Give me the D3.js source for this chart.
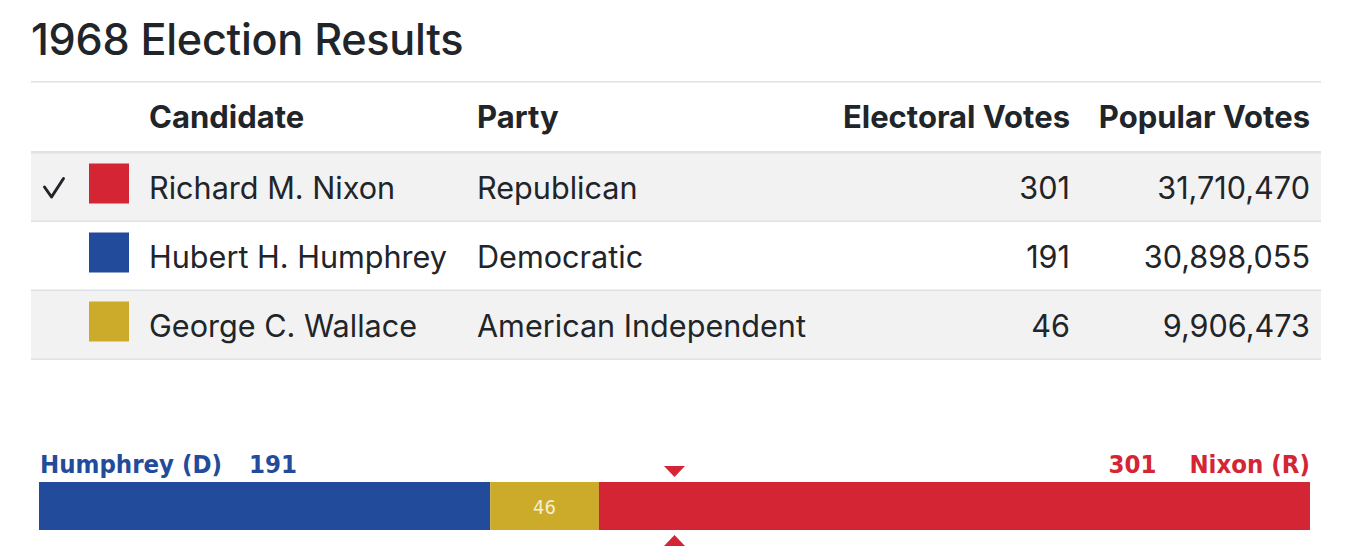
<!DOCTYPE html>
<html>
<head>
<meta charset="utf-8">
<script src="https://cdn.jsdelivr.net/npm/d3@7"></script>
<style>
  body { margin: 0; background: #fff; }
  svg { display: block; }
  text { font-family: Inter, "Noto Sans", sans-serif; fill: #212529; }
  .bar-label { font-family: "DejaVu Sans Condensed", "Liberation Sans Narrow", sans-serif; font-weight: 700; }
</style>
</head>
<body>
<div id="chart"></div>
<script>
// data
const TITLE = "1968 Election Results";
const HEADERS = ["Candidate", "Party", "Electoral Votes", "Popular Votes"];
const CANDIDATES = ["Richard M. Nixon", "Hubert H. Humphrey", "George C. Wallace"];
const SHORT_NAMES = ["Nixon (R)", "Humphrey (D)", "Wallace (AI)"];
const PARTIES = ["Republican", "Democratic", "American Independent"];
const ELECTORAL_VOTES = [301, 191, 46];
const POPULAR_VOTES = [31710470, 30898055, 9906473];
const WINNER = "Richard M. Nixon";
// order of segments in the bar (left to right)
const BAR_ORDER = ["Hubert H. Humphrey", "George C. Wallace", "Richard M. Nixon"];

const WIDTH = 1364;
const HEIGHT = 552;

const colorScale = d3.scaleOrdinal()
  .domain(CANDIDATES)
  .range(["#d42535", "#234b9b", "#cbab29"]);

const rows = CANDIDATES.map((c, i) => ({
  name: c,
  short: SHORT_NAMES[i],
  party: PARTIES[i],
  ev: ELECTORAL_VOTES[i],
  pv: POPULAR_VOTES[i],
}));

const svg = d3.select("#chart")
  .append("svg")
  .attr("width", WIDTH)
  .attr("height", HEIGHT);

// title
svg.append("text")
  .attr("x", 31)
  .attr("y", 55)
  .attr("font-size", 43.2)
  .attr("font-weight", 500)
  .attr("letter-spacing", -0.3)
  .text(TITLE);

// ---- table ----
const tableLeft = 31, tableRight = 1321;
const headerTop = 81, headerBottom = 151;
const yScale = d3.scaleBand()
  .domain(CANDIDATES)
  .range([153, 360])
  .paddingInner(0);

const table = svg.append("g").attr("class", "table");

// row backgrounds (striped)
table.selectAll(".row-bg")
  .data(rows)
  .join("rect")
  .attr("class", "row-bg")
  .attr("x", tableLeft)
  .attr("width", tableRight - tableLeft)
  .attr("y", d => yScale(d.name))
  .attr("height", yScale.bandwidth())
  .attr("fill", (d, i) => i % 2 === 0 ? "#f2f2f2" : "#fff");

// borders
table.append("rect")
  .attr("x", tableLeft).attr("width", tableRight - tableLeft)
  .attr("y", headerTop).attr("height", 1.5)
  .attr("fill", "#dee2e6");
table.append("rect")
  .attr("x", tableLeft).attr("width", tableRight - tableLeft)
  .attr("y", headerBottom).attr("height", 2.5)
  .attr("fill", "#dee2e6");
table.selectAll(".row-border")
  .data(rows)
  .join("rect")
  .attr("class", "row-border")
  .attr("x", tableLeft)
  .attr("width", tableRight - tableLeft)
  .attr("y", d => yScale(d.name) + yScale.bandwidth() - 1.5)
  .attr("height", 1.5)
  .attr("fill", "#dee2e6");

// column anchors
const cols = [
  { x: 149, anchor: "start" },
  { x: 477, anchor: "start" },
  { x: 1070, anchor: "end" },
  { x: 1310, anchor: "end" },
];

table.selectAll(".header")
  .data(HEADERS)
  .join("text")
  .attr("class", "header")
  .attr("x", (d, i) => cols[i].x)
  .attr("y", 128)
  .attr("text-anchor", (d, i) => cols[i].anchor)
  .attr("font-size", 31)
  .attr("font-weight", 700)
  .text(d => d);

const fmt = d3.format(",");
const row = table.selectAll(".row")
  .data(rows)
  .join("g")
  .attr("class", "row")
  .attr("transform", d => `translate(0, ${yScale(d.name) + yScale.bandwidth() / 2})`);

// check mark for the winner
row.filter(d => d.name === WINNER)
  .append("path")
  .attr("d", "M44.5,-0.5 L51.5,9.5 L63.5,-9")
  .attr("fill", "none")
  .attr("stroke", "#212529")
  .attr("stroke-width", 3)
  .attr("stroke-linecap", "round")
  .attr("stroke-linejoin", "round");

row.append("rect")
  .attr("x", 89)
  .attr("y", -24)
  .attr("width", 40)
  .attr("height", 40)
  .attr("fill", d => colorScale(d.name));

const cells = [d => d.name, d => d.party, d => d.ev, d => fmt(d.pv)];
cells.forEach((f, i) => {
  row.append("text")
    .attr("x", cols[i].x)
    .attr("y", 11)
    .attr("text-anchor", cols[i].anchor)
    .attr("font-size", 30.6)
    .text(f);
});

// ---- electoral bar ----
const barTop = 482, barHeight = 48;
const totalEV = d3.sum(ELECTORAL_VOTES);
const xScale = d3.scaleLinear()
  .domain([0, totalEV])
  .range([39, 1310]);

const segments = [];
let acc = 0;
BAR_ORDER.forEach(name => {
  const r = rows.find(d => d.name === name);
  segments.push({ ...r, x0: acc, x1: acc + r.ev });
  acc += r.ev;
});

const bar = svg.append("g").attr("class", "bar");
bar.selectAll("rect")
  .data(segments)
  .join("rect")
  .attr("x", d => xScale(d.x0))
  .attr("width", d => xScale(d.x1) - xScale(d.x0))
  .attr("y", barTop)
  .attr("height", barHeight)
  .attr("fill", d => colorScale(d.name));

// middle segment value label
bar.selectAll(".seg-label")
  .data(segments.slice(1, -1))
  .join("text")
  .attr("class", "bar-label seg-label")
  .attr("x", d => xScale((d.x0 + d.x1) / 2))
  .attr("y", 514)
  .attr("text-anchor", "middle")
  .attr("font-size", 20)
  .style("font-weight", 400)
  .style("fill", "#f4eed6")
  .text(d => d.ev);

// end labels: name and votes
const left = segments[0], right = segments[segments.length - 1];
const LABEL_Y = 473, LABEL_SIZE = 25.5;
const leftName = bar.append("text")
  .attr("class", "bar-label")
  .attr("x", xScale(0) + 1)
  .attr("y", LABEL_Y)
  .attr("font-size", LABEL_SIZE)
  .style("fill", colorScale(left.name))
  .text(left.short);
bar.append("text")
  .attr("class", "bar-label")
  .attr("x", xScale(0) + 1 + leftName.node().getComputedTextLength() + 27)
  .attr("y", LABEL_Y)
  .attr("font-size", LABEL_SIZE)
  .style("fill", colorScale(left.name))
  .text(left.ev);

const rightName = bar.append("text")
  .attr("class", "bar-label")
  .attr("x", xScale(totalEV))
  .attr("y", LABEL_Y)
  .attr("text-anchor", "end")
  .attr("font-size", LABEL_SIZE)
  .style("fill", colorScale(right.name))
  .text(right.short);
bar.append("text")
  .attr("class", "bar-label")
  .attr("x", xScale(totalEV) - rightName.node().getComputedTextLength() - 33)
  .attr("y", LABEL_Y)
  .attr("text-anchor", "end")
  .attr("font-size", LABEL_SIZE)
  .style("fill", colorScale(right.name))
  .text(right.ev);

// midpoint markers
const mx = xScale(totalEV / 2);
bar.append("path")
  .attr("d", `M${mx - 10.5},466 L${mx + 10.5},466 L${mx},477 Z`)
  .attr("fill", colorScale(WINNER));
bar.append("path")
  .attr("d", `M${mx - 10.5},546 L${mx + 10.5},546 L${mx},535 Z`)
  .attr("fill", colorScale(WINNER));
</script>
</body>
</html>
